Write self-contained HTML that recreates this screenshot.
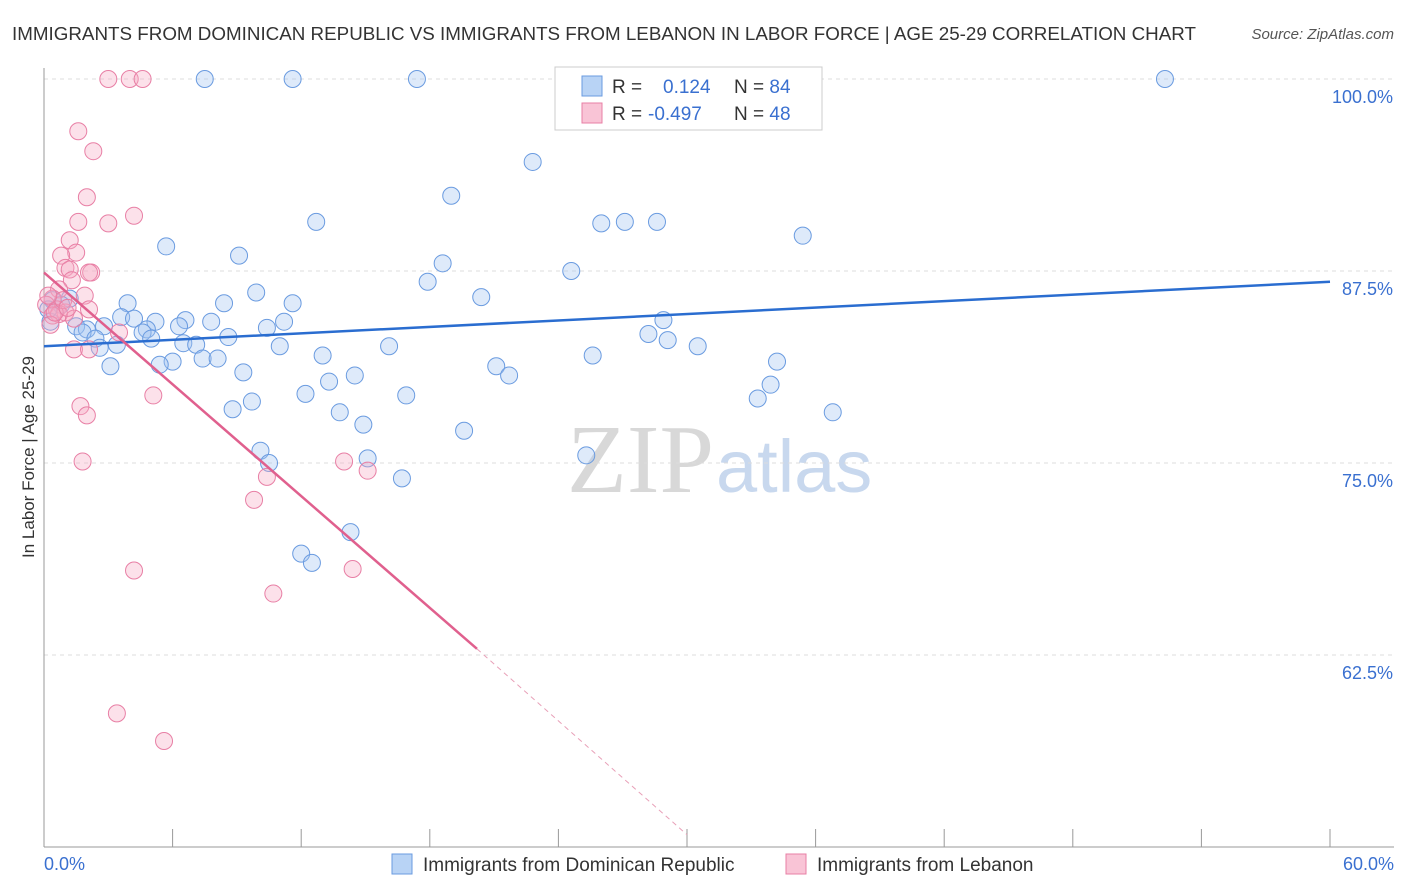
<!DOCTYPE html>
<html><head><meta charset="utf-8"><style>
body{margin:0;background:#fff;font-family:"Liberation Sans",sans-serif;}
svg{display:block}
</style></head><body>
<svg id="chart" width="1406" height="892">
<text x="12" y="40" font-size="18.8" fill="#333" textLength="1184">IMMIGRANTS FROM DOMINICAN REPUBLIC VS IMMIGRANTS FROM LEBANON IN LABOR FORCE | AGE 25-29 CORRELATION CHART</text>
<text x="1394" y="39" font-size="15" fill="#555" font-style="italic" text-anchor="end">Source: ZipAtlas.com</text>
<text x="714" y="492" font-size="98" fill="#d8d8d8" text-anchor="end" font-family="Liberation Serif,serif">ZIP</text>
<text x="716" y="492" font-size="74" fill="#c8d8ee">atlas</text>
<g id="grid"></g><g id="axes"></g><g id="pts"></g><g id="lines"></g>
<text transform="translate(34,457) rotate(-90)" font-size="17" fill="#333" text-anchor="middle">In Labor Force | Age 25-29</text>
<g>
<rect x="555" y="67" width="267" height="63" fill="#fff" stroke="#ccc"/>
<rect x="582" y="76" width="20" height="20" fill="#b8d3f5" stroke="#6a9be0"/>
<rect x="582" y="103" width="20" height="20" fill="#f9c4d6" stroke="#e87fa5"/>
<text x="612" y="93" font-size="19" fill="#333">R =</text>
<text x="663" y="93" font-size="19" fill="#3a70d0">0.124</text>
<text x="734" y="93" font-size="19" fill="#333">N = <tspan fill="#3a70d0">84</tspan></text>
<text x="612" y="120" font-size="19" fill="#333">R =</text>
<text x="648" y="120" font-size="19" fill="#3a70d0">-0.497</text>
<text x="734" y="120" font-size="19" fill="#333">N = <tspan fill="#3a70d0">48</tspan></text>
</g>
<g>
<rect x="392" y="854" width="20" height="20" fill="#b8d3f5" stroke="#6a9be0"/>
<text x="423" y="871" font-size="19" fill="#333">Immigrants from Dominican Republic</text>
<rect x="786" y="854" width="20" height="20" fill="#f9c4d6" stroke="#e87fa5"/>
<text x="817" y="871" font-size="19" fill="#333">Immigrants from Lebanon</text>
</g>
</svg>
<script>
const xTicksPct=[0,6,12,18,24,30,36,42,48,54,60];
const yTicks=[100,87.5,75,62.5];
const yTickLabels=["100.0%","87.5%","75.0%","62.5%"];
const xEndLabels=["0.0%","60.0%"];
const blueX=[7.5,11.6,17.4,52.3,22.8,19.0,12.7,26.0,27.1,28.6,35.4,5.7,9.1,18.6,24.6,17.9,9.9,20.4,3.9,8.4,11.6,0.4,1.2,0.8,3.6,4.2,5.2,6.6,7.8,11.2,10.4,6.3,1.5,2.8,2.0,4.8,4.6,1.8,2.4,5.0,8.6,28.2,28.9,29.1,30.5,6.5,7.1,3.4,2.6,11.0,16.1,13.0,25.6,7.4,8.1,6.0,5.4,3.1,34.2,21.1,14.5,9.3,13.3,21.7,33.9,12.2,9.7,16.9,33.3,8.8,13.8,36.8,14.9,19.6,10.1,15.1,10.5,25.3,16.7,14.3,12.0,12.5,0.3,0.2];
const blueY=[100,100,100,100,94.6,92.4,90.7,90.6,90.7,90.7,89.8,89.1,88.5,88.0,87.5,86.8,86.1,85.8,85.4,85.4,85.4,85.6,85.7,85.3,84.5,84.4,84.2,84.3,84.2,84.2,83.8,83.9,83.9,83.9,83.7,83.7,83.5,83.5,83.1,83.1,83.2,83.4,84.3,83.0,82.6,82.8,82.7,82.7,82.5,82.6,82.6,82.0,82.0,81.8,81.8,81.6,81.4,81.3,81.6,81.3,80.7,80.9,80.3,80.7,80.1,79.5,79.0,79.4,79.2,78.5,78.3,78.3,77.5,77.1,75.8,75.3,75.0,75.5,74.0,70.5,69.1,68.5,84.2,85.0];
const pinkX=[3.0,4.0,4.6,1.6,2.3,2.0,4.2,1.6,3.0,1.2,1.5,0.8,1.0,1.2,2.2,2.1,1.3,0.7,1.9,0.4,0.1,0.6,1.0,0.7,0.4,1.4,0.3,3.5,1.4,2.1,5.1,1.7,2.0,1.8,14.0,15.1,10.4,9.8,4.2,14.4,10.7,3.4,5.6,0.5,0.9,0.2,1.1,2.1];
const pinkY=[100,100,100,96.6,95.3,92.3,91.1,90.7,90.6,89.5,88.7,88.5,87.7,87.6,87.4,87.4,86.9,86.3,85.9,85.7,85.3,85.0,84.8,84.7,84.6,84.4,84.0,83.5,82.4,82.4,79.4,78.7,78.1,75.1,75.1,74.5,74.1,72.6,68.0,68.1,66.5,58.7,56.9,84.8,85.6,85.9,85.1,85.0];
const blueFit=[82.6,86.8];
const pinkFit=[87.4,62.9,20.2,50.8];
const NS='http://www.w3.org/2000/svg';
const X=v=>44+v*(1286/60), Y=v=>79+(100-v)*15.36;
function mk(t,a,p){const e=document.createElementNS(NS,t);for(const k in a)e.setAttribute(k,a[k]);document.getElementById(p).appendChild(e);return e;}
yTicks.forEach((t,i)=>{
 const g=mk('line',{x1:44,x2:1394,y1:Y(t),y2:Y(t),stroke:'#ddd','stroke-dasharray':'4,4'},'grid');
 
 
 const l=mk('text',{x:1393,y:Y(t)+24,'font-size':18,fill:'#3a70d0','text-anchor':'end'},'axes');l.textContent=yTickLabels[i];
 
 
});
const ax=mk('line',{x1:44,x2:44,y1:68,y2:847,stroke:'#999'},'axes');


const bx=mk('line',{x1:44,x2:1394,y1:847,y2:847,stroke:'#999'},'axes');


xTicksPct.forEach(t=>{const e=mk('line',{x1:X(t),x2:X(t),y1:829,y2:847,stroke:'#999'},'axes');
 
 });
[[0,'start',44],[60,'end',1394]].forEach((d,i)=>{const e=mk('text',{x:d[2],y:870,'font-size':18,fill:'#3a70d0','text-anchor':d[1]},'axes');e.textContent=xEndLabels[i];
 
 });
blueX.forEach((x,i)=>{const c=mk('circle',{cx:X(x),cy:Y(blueY[i]),r:8.5,fill:'rgba(160,195,240,0.35)',stroke:'#6a9be0','stroke-width':1},'pts');
 
 });
pinkX.forEach((x,i)=>{const c=mk('circle',{cx:X(x),cy:Y(pinkY[i]),r:8.5,fill:'rgba(245,170,195,0.35)',stroke:'#e87fa5','stroke-width':1},'pts');
 
 });
const bl=mk('line',{x1:X(0),y1:Y(blueFit[0]),x2:X(60),y2:Y(blueFit[1]),stroke:'#2a6dd0','stroke-width':2.5},'lines');


const pl=mk('line',{x1:X(0),y1:Y(pinkFit[0]),x2:X(pinkFit[2]),y2:Y(pinkFit[1]),stroke:'#e0608e','stroke-width':2.5},'lines');


const pd=mk('line',{x1:X(pinkFit[2]),y1:Y(pinkFit[1]),x2:X(30),y2:Y(pinkFit[3]),stroke:'#e8a0b8','stroke-width':1,'stroke-dasharray':'5,4'},'lines');


</script>
</body></html>
